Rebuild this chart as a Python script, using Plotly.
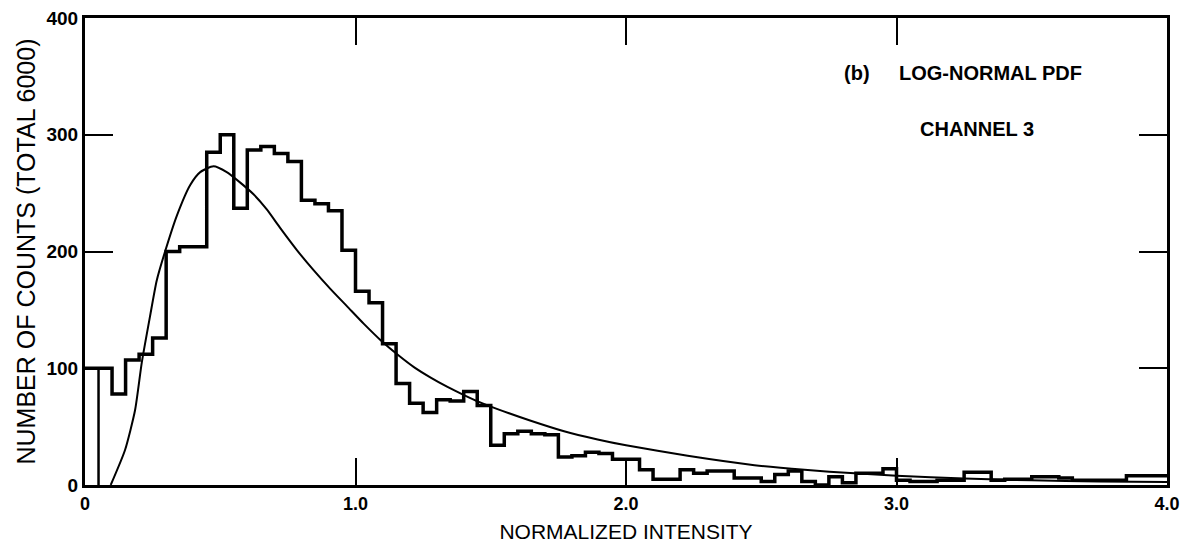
import plotly.graph_objects as go

# ---- data ----
bin_width = 0.05
counts = [100, 100, 78, 107, 112, 126, 200, 204, 204, 285,
          300, 237, 287, 290, 284, 277, 244, 241, 235, 201,
          166, 156, 121, 87, 70, 62, 73, 72, 80, 68,
          34, 44, 46, 44, 43, 24, 25, 28, 27, 22,
          22, 13, 5, 5, 13, 10, 12, 12, 6, 6,
          3, 9, 12, 3, 0, 7, 2, 10, 10, 14,
          4, 3, 3, 4, 4, 11, 11, 4, 5, 5,
          7, 7, 6, 4, 4, 4, 4, 8, 8, 8]

curve_x = [0.095, 0.148, 0.185, 0.21, 0.24, 0.265, 0.296, 0.34, 0.389, 0.426,
           0.475, 0.524, 0.574, 0.623, 0.672, 0.722, 0.784, 0.845, 0.907, 0.969,
           1.031, 1.093, 1.154, 1.216, 1.278, 1.34, 1.401, 1.463, 1.525, 1.648,
           1.771, 1.895, 2.0, 2.228, 2.475, 2.66, 2.845, 3.0, 3.25, 3.5, 3.75, 4.0]
curve_y = [0, 30, 64, 105, 144, 175, 200, 231, 257, 268,
           273, 268, 259, 249, 236, 220, 201, 184, 168, 153,
           138, 124, 112, 101, 92, 84, 77, 70.5, 65, 55,
           46, 39, 34, 25, 17, 13, 10, 8, 5.5, 4, 3, 2.5]

x_ticks = [0, 1, 2, 3, 4]
x_tick_labels = ["0", "1.0", "2.0", "3.0", "4.0"]
y_ticks = [0, 100, 200, 300, 400]
y_tick_labels = ["0", "100", "200", "300", "400"]

# ---- build step outline from bins ----
edges = [i * bin_width for i in range(len(counts) + 1)]
step_x = edges
step_y = counts + [counts[-1]]

fig = go.Figure()
fig.add_trace(go.Scatter(x=step_x, y=step_y, mode="lines",
                         line=dict(color="black", width=3.5, shape="hv"),
                         hoverinfo="skip", showlegend=False))
# starting stroke of the histogram pen at the second bin edge
fig.add_trace(go.Scatter(x=[edges[1], edges[1]], y=[0, counts[1]], mode="lines",
                         line=dict(color="black", width=2.5),
                         hoverinfo="skip", showlegend=False))
fig.add_trace(go.Scatter(x=curve_x, y=curve_y, mode="lines",
                         line=dict(color="black", width=2, shape="spline", smoothing=0.6),
                         hoverinfo="skip", showlegend=False))

font_fam = "Liberation Sans, Arial, sans-serif"

fig.update_layout(
    width=1196, height=547,
    margin=dict(l=85, r=29, t=18, b=62),
    paper_bgcolor="white", plot_bgcolor="white",
    font=dict(family=font_fam, color="black"),
    xaxis=dict(range=[0, 4], tickvals=x_ticks, ticktext=x_tick_labels,
               showgrid=False, zeroline=False, automargin=False,
               showline=True, linecolor="black", linewidth=3, mirror="ticks",
               ticks="inside", ticklen=27, tickwidth=2, tickcolor="black",
               tickfont=dict(size=18, family=font_fam, weight="bold"),
               title=dict(text="NORMALIZED INTENSITY", standoff=12,
                          font=dict(size=21, family=font_fam))),
    yaxis=dict(range=[0, 400], tickvals=y_ticks, ticktext=y_tick_labels,
               showgrid=False, zeroline=False, automargin=False,
               showline=True, linecolor="black", linewidth=3, mirror="ticks",
               ticks="inside", ticklen=28, tickwidth=2, tickcolor="black",
               tickfont=dict(size=19, family=font_fam, weight="bold"),
               title=dict(text="NUMBER OF COUNTS (TOTAL 6000)", standoff=4,
                          font=dict(size=25, family=font_fam))),
)

ann_font = dict(size=20, family=font_fam, weight="bold")
fig.add_annotation(x=0.700, y=0.882, xref="paper", yref="paper",
                   text="(b)", showarrow=False, xanchor="left", yanchor="middle",
                   font=ann_font)
fig.add_annotation(x=0.7505, y=0.882, xref="paper", yref="paper",
                   text="LOG-NORMAL PDF", showarrow=False, xanchor="left", yanchor="middle",
                   font=ann_font)
fig.add_annotation(x=0.770, y=0.762, xref="paper", yref="paper",
                   text="CHANNEL 3", showarrow=False, xanchor="left", yanchor="middle",
                   font=ann_font)

fig.write_html("out.html")
